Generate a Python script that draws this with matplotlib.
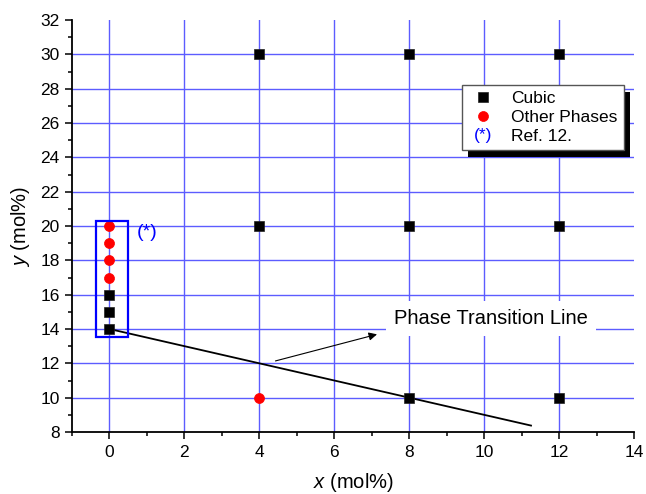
import numpy as np
import matplotlib
matplotlib.use("Agg")
import matplotlib.pyplot as plt
from matplotlib.patches import Rectangle
from matplotlib.text import Text
from matplotlib.legend_handler import HandlerBase
from matplotlib.ticker import MultipleLocator

plt.rcParams['font.family'] = ['Liberation Sans', 'DejaVu Sans']
plt.rcParams['mathtext.fontset'] = 'custom'
plt.rcParams['mathtext.rm'] = 'Liberation Sans'
plt.rcParams['mathtext.it'] = 'Liberation Sans:italic'

# cubic phase samples (x, y in mol%)
cubic_x = [0, 0, 0, 4, 4, 8, 8, 8, 12, 12, 12]
cubic_y = [14, 15, 16, 20, 30, 10, 20, 30, 10, 20, 30]
# other phases
other_x = [0, 0, 0, 0, 4]
other_y = [17, 18, 19, 20, 10]

# phase transition line end points
line_x = [0, 11.25]
line_y = [14, 8.375]

x_ticks = np.arange(0, 15, 2)
y_ticks = np.arange(8, 33, 2)

fig = plt.figure(figsize=(6.46, 4.94), dpi=100)
ax = fig.add_axes([0.1115, 0.1255, 0.870, 0.834])
ax.set_xlim(-1, 14)
ax.set_ylim(8, 32)

# blue grid, skipping the lines on the axis limits
for gx in x_ticks:
	if -1 < gx < 14:
		ax.axvline(gx, color='#5c5cff', lw=1.0, zorder=0)
for gy in y_ticks:
	if 8 < gy < 32:
		ax.axhline(gy, color='#5c5cff', lw=1.0, zorder=0)

ax.plot(line_x, line_y, color='black', lw=1.3, zorder=2)

ax.plot(cubic_x, cubic_y, 's', color='black', ms=6.8, mec='#222222', mew=0.5,
		label='Cubic', zorder=3)
ax.plot(other_x, other_y, 'o', color='#ff0000', ms=7.2, mec='#ff0000', mew=0.5,
		label='Other Phases', zorder=3)

# box around the reference data
ax.add_patch(Rectangle((-0.37, 13.56), 0.87, 6.75, fill=False, ec='#0000ff', lw=1.6, zorder=4))
ax.text(1.0, 19.6, '(*)', color='#0000ff', fontsize=14, ha='center', va='center')

ax.annotate('', xy=(7.14, 13.69), xytext=(4.43, 12.14),
			arrowprops=dict(arrowstyle='-|>', color='black', lw=0.8,
							mutation_scale=12, shrinkA=0, shrinkB=0))
ax.text(10.19, 14.59, 'Phase Transition Line', fontsize=14.5, ha='center', va='center',
		bbox=dict(boxstyle='square,pad=0.4', fc='white', ec='none'), zorder=5)

ax.set_xticks(x_ticks)
ax.set_yticks(y_ticks)
ax.xaxis.set_minor_locator(MultipleLocator(1))
ax.yaxis.set_minor_locator(MultipleLocator(1))
ax.tick_params(which='major', direction='out', length=5, width=1.1, labelsize=12.5, pad=4)
ax.tick_params(which='minor', direction='out', length=3, width=1.1)
for s in ['top', 'right']:
	ax.spines[s].set_visible(False)
for s in ['left', 'bottom']:
	ax.spines[s].set_linewidth(1.3)

ax.set_xlabel(r'$x$ (mol%)', fontsize=14.5, labelpad=8)
ax.set_ylabel(r'$y$ (mol%)', fontsize=14.5, labelpad=6)


class TextHandler(HandlerBase):
	def create_artists(self, legend, orig_handle, xdescent, ydescent,
					   width, height, fontsize, trans):
		t = Text(width / 2 - xdescent, height / 2 - ydescent, orig_handle.get_text(),
				 color=orig_handle.get_color(), ha='center', va='center',
				 fontsize=fontsize, transform=trans)
		return [t]


ref_handle = Text(text='(*)', color='#0000ff')
handles, labels = ax.get_legend_handles_labels()
handles.append(ref_handle)
labels.append('Ref. 12.')

leg = ax.legend(handles, labels, loc='upper left',
				bbox_to_anchor=(462 / 646, 1 - 85 / 494), bbox_transform=fig.transFigure,
				borderaxespad=0, fontsize=12.5, labelspacing=0.22, borderpad=0.35,
				handlelength=1.7, handletextpad=0.8, fancybox=False, framealpha=1,
				handler_map={Text: TextHandler()})
leg.get_frame().set_edgecolor('#555555')
leg.get_frame().set_linewidth(1.0)
leg.set_zorder(10)

# solid black drop shadow under the legend
fig.canvas.draw()
bb = leg.get_window_extent()
shadow = Rectangle((bb.x0 + 6, bb.y0 - 7), bb.width, bb.height, transform=None,
				   fc='black', ec='none', zorder=9)
fig.add_artist(shadow)
leg.remove()
fig.add_artist(leg)

fig.savefig('out.png', dpi=100)
